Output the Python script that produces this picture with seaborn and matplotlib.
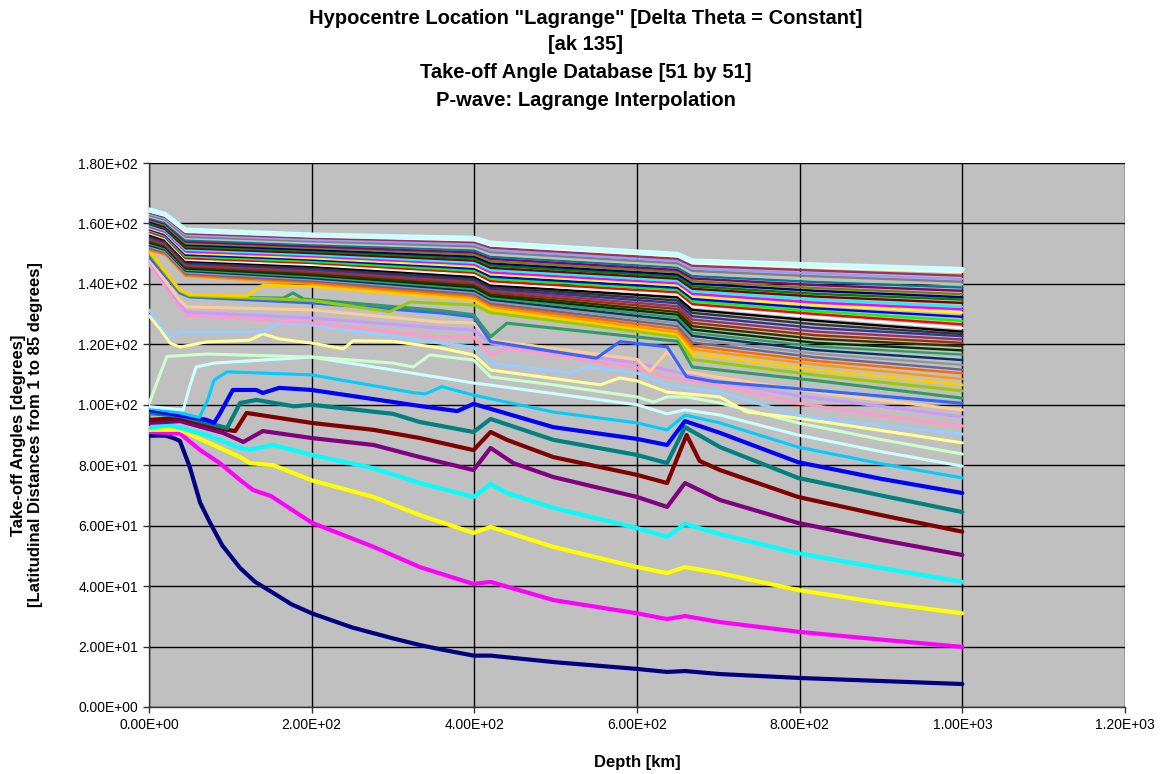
import matplotlib
matplotlib.use("Agg")
import matplotlib.pyplot as plt
import pandas as pd
import seaborn as sns
from matplotlib.ticker import FuncFormatter, MultipleLocator

TITLE_LINES = [
    'Hypocentre Location "Lagrange" [Delta Theta = Constant]',
    '[ak 135]',
    'Take-off Angle Database [51 by 51]',
    'P-wave: Lagrange Interpolation',
]
X_LABEL = "Depth [km]"
Y_LABEL = "Take-off Angles [degrees]\n[Latitudinal Distances from 1 to 85 degrees]"

# ---- individually shaped series (depth km, take-off angle deg) ----
D01 = [0, 20, 30, 38, 50, 63, 75, 90, 112, 130, 153, 175, 200, 250, 300, 333, 360, 399, 420, 500, 600, 637, 659, 702, 800, 900, 1000]
V01 = [89.8, 89.8, 89.0, 88.0, 79.5, 67.5, 61.0, 53.5, 46.0, 41.5, 37.7, 34.0, 31.0, 26.3, 22.7, 20.5, 19.0, 17.0, 17.0, 14.8, 12.6, 11.6, 11.9, 10.9, 9.6, 8.6, 7.6]
D02 = [0, 38, 63, 87, 112, 128, 150, 200, 276, 333, 399, 420, 497, 600, 637, 659, 702, 798, 900, 1000]
V02 = [91.0, 90.5, 85.0, 80.7, 75.1, 71.8, 69.8, 61.0, 53.0, 46.3, 40.7, 41.4, 35.4, 31.0, 29.1, 30.1, 28.1, 24.9, 22.3, 19.9]
D03 = [0, 38, 71, 112, 124, 153, 200, 276, 333, 399, 420, 497, 600, 637, 659, 702, 798, 900, 1000]
V03 = [91.7, 91.7, 87.7, 82.7, 80.7, 80.0, 75.0, 69.5, 63.5, 57.6, 59.6, 53.0, 46.3, 44.3, 46.3, 44.3, 38.7, 34.5, 31.0]
D04 = [0, 25, 71, 112, 124, 153, 200, 276, 333, 399, 420, 440, 497, 600, 637, 659, 702, 798, 900, 1000]
V04 = [92.3, 93.3, 90.0, 85.7, 85.2, 86.7, 83.4, 79.0, 74.1, 69.5, 73.8, 70.8, 65.9, 59.2, 56.3, 60.6, 57.2, 50.9, 46.0, 41.4]
D05 = [0, 38, 91, 116, 140, 200, 276, 333, 399, 420, 448, 497, 600, 637, 659, 702, 798, 900, 1000]
V05 = [94.0, 94.6, 90.7, 87.7, 91.3, 89.0, 86.7, 82.7, 78.4, 85.7, 80.7, 76.1, 69.5, 66.2, 74.1, 68.5, 60.9, 55.3, 50.3]
D06 = [0, 38, 96, 106, 120, 200, 276, 333, 399, 420, 440, 497, 600, 637, 661, 677, 702, 798, 900, 1000]
V06 = [95.0, 95.6, 91.7, 91.3, 97.3, 94.0, 91.7, 89.0, 85.0, 91.0, 88.4, 82.7, 76.8, 74.1, 90.0, 81.4, 78.4, 69.5, 63.5, 58.0]
D07 = [0, 38, 96, 112, 132, 178, 200, 300, 333, 399, 420, 497, 600, 637, 659, 702, 798, 900, 1000]
V07 = [97.3, 96.3, 92.3, 100.6, 101.6, 99.5, 100.0, 97.0, 94.3, 91.0, 95.3, 88.4, 83.4, 80.7, 92.6, 86.0, 75.8, 70.0, 64.5]
D08 = [0, 71, 80, 87, 103, 132, 140, 160, 200, 333, 379, 399, 497, 600, 637, 659, 702, 798, 900, 1000]
V08 = [98.3, 95.0, 94.0, 97.0, 104.9, 104.9, 103.9, 105.6, 104.9, 99.6, 97.9, 100.3, 92.6, 88.7, 86.7, 94.6, 90.7, 81.0, 75.5, 70.8]
D09 = [0, 38, 62, 72, 80, 96, 200, 325, 340, 360, 399, 497, 600, 637, 659, 702, 798, 900, 1000]
V09 = [98.9, 97.3, 95.8, 101.5, 108.2, 110.9, 109.9, 104.0, 103.6, 106.0, 103.2, 97.6, 94.0, 91.7, 96.6, 94.0, 86.0, 80.5, 75.8]
D10 = [0, 30, 42, 50, 58, 80, 200, 358, 399, 420, 600, 637, 659, 702, 798, 900, 1000]
V10 = [99.4, 98.6, 98.3, 106.0, 112.5, 113.8, 115.8, 109.0, 107.2, 106.5, 100.0, 97.0, 98.3, 96.6, 90.0, 84.5, 79.7]
D11 = [0, 12, 22, 71, 200, 300, 325, 345, 399, 420, 497, 600, 620, 637, 661, 702, 798, 900, 1000]
V11 = [100.3, 109.0, 116.0, 116.8, 115.8, 113.8, 112.5, 116.5, 114.8, 109.2, 106.6, 102.6, 100.9, 102.6, 102.6, 100.6, 94.0, 88.5, 83.7]
D12 = [0, 14, 26, 38, 71, 124, 140, 160, 200, 239, 251, 300, 358, 399, 420, 555, 579, 600, 637, 702, 735, 798, 900, 1000]
V12 = [129.5, 125.0, 120.4, 119.1, 120.8, 121.4, 123.5, 121.8, 120.4, 118.5, 121.2, 121.0, 118.8, 116.5, 111.5, 106.6, 108.9, 107.9, 104.2, 102.6, 97.6, 95.6, 91.5, 87.4]
D13 = [0, 14, 26, 38, 140, 160, 200, 358, 399, 420, 518, 538, 600, 637, 702, 798, 900, 1000]
V13 = [131.4, 126.5, 122.4, 124.1, 124.1, 127.1, 126.4, 120.4, 119.1, 113.8, 110.5, 112.5, 110.5, 106.6, 104.2, 96.5, 93.2, 90.3]
D14 = [0, 38, 46, 200, 358, 399, 420, 440, 600, 637, 702, 798, 900, 1000]
V14 = [146.5, 132.4, 129.7, 127.1, 122.4, 122.4, 116.5, 118.8, 112.2, 109.2, 106.6, 100.5, 96.5, 93.0]
D15 = [0, 38, 46, 200, 358, 399, 420, 600, 637, 702, 798, 900, 1000]
V15 = [147.5, 133.5, 130.7, 128.7, 125.4, 124.7, 120.4, 113.8, 111.5, 107.5, 103.0, 99.5, 96.0]
D16 = [0, 38, 46, 200, 358, 399, 420, 600, 616, 637, 659, 702, 798, 900, 1000]
V16 = [148.2, 134.5, 132.4, 131.4, 127.4, 127.1, 121.4, 115.0, 111.0, 117.5, 111.0, 109.0, 105.0, 101.5, 98.3]
D17 = [0, 38, 50, 200, 358, 399, 420, 550, 579, 637, 661, 694, 820, 1000]
V17 = [149.0, 137.0, 135.7, 133.7, 130.4, 129.1, 120.9, 115.4, 120.9, 119.2, 109.3, 107.7, 104.8, 100.5]
D18 = [0, 38, 50, 165, 177, 190, 358, 399, 420, 440, 650, 668, 820, 1000]
V18 = [150.0, 137.5, 135.8, 135.3, 137.0, 135.0, 131.2, 129.8, 122.5, 127.0, 121.0, 112.5, 108.0, 102.2]
D19 = [0, 38, 50, 200, 296, 321, 400, 420, 650, 668, 820, 1000]
V19 = [150.5, 137.8, 136.2, 134.5, 130.8, 134.0, 133.0, 130.5, 122.5, 115.0, 109.8, 104.6]
D20 = [0, 38, 50, 120, 140, 200, 400, 420, 650, 668, 820, 1000]
V20 = [151.0, 138.0, 136.5, 136.0, 139.6, 139.2, 134.6, 131.6, 123.4, 117.0, 111.5, 106.6]

# ---- dense upper bundle, all read at the same depths ----
BUNDLE_DEPTH = [0, 20, 45, 200, 400, 420, 650, 668, 820, 1000]
B21 = [151.1, 149.6, 142.6, 140.0, 135.4, 132.4, 124.0, 118.4, 113.3, 108.5]
B22 = [151.5, 150.0, 143.0, 140.5, 136.0, 133.0, 125.0, 119.5, 114.5, 110.4]
B23 = [151.9, 150.4, 143.4, 141.0, 136.6, 133.6, 126.0, 120.6, 115.7, 111.6]
B24 = [152.4, 150.8, 143.8, 141.5, 137.2, 134.2, 126.9, 121.7, 116.9, 113.2]
B25 = [152.8, 151.3, 144.3, 141.9, 137.7, 134.8, 127.9, 122.8, 118.1, 114.8]
B26 = [153.3, 151.7, 144.7, 142.4, 138.3, 135.4, 128.8, 123.8, 119.3, 116.6]
B27 = [153.7, 152.1, 145.1, 142.9, 138.9, 136.0, 129.8, 124.9, 120.5, 118.0]
B28 = [154.1, 152.5, 145.5, 143.4, 139.5, 136.6, 130.7, 126.0, 121.8, 119.4]
B29 = [154.6, 152.9, 145.9, 143.9, 140.1, 137.2, 131.7, 127.1, 123.0, 120.5]
B30 = [155.0, 153.3, 146.3, 144.4, 140.7, 137.8, 132.6, 128.2, 124.2, 121.6]
B31 = [155.4, 153.8, 146.8, 144.8, 141.3, 138.4, 133.6, 129.3, 125.4, 122.7]
B32 = [155.9, 154.2, 147.2, 145.3, 141.8, 139.0, 134.5, 130.4, 126.6, 123.4]
B33 = [156.3, 154.6, 147.6, 145.8, 142.4, 139.6, 135.5, 131.4, 127.8, 124.2]
B34 = [156.8, 155.0, 148.0, 146.3, 143.0, 140.2, 136.5, 132.5, 129.0, 125.4]
B35 = [157.2, 155.4, 148.5, 146.9, 143.7, 140.9, 137.2, 133.3, 130.0, 126.6]
B36 = [157.7, 155.9, 149.1, 147.4, 144.3, 141.7, 138.0, 134.2, 130.9, 127.8]
B37 = [158.1, 156.3, 149.6, 148.0, 145.0, 142.4, 138.7, 135.0, 131.9, 129.1]
B38 = [158.5, 156.8, 150.2, 148.5, 145.7, 143.2, 139.5, 135.9, 132.9, 130.5]
B39 = [158.9, 157.2, 150.7, 149.1, 146.4, 143.8, 140.2, 136.7, 133.8, 131.6]
B40 = [159.4, 157.7, 151.3, 149.6, 147.0, 144.6, 140.9, 137.6, 134.8, 132.5]
B41 = [159.8, 158.1, 151.8, 150.2, 147.7, 145.3, 141.7, 138.4, 135.8, 133.7]
B42 = [160.2, 158.6, 152.4, 150.8, 148.4, 146.1, 142.4, 139.2, 136.7, 134.8]
B43 = [160.6, 159.0, 152.9, 151.3, 149.0, 146.8, 143.1, 140.1, 137.7, 135.6]
B44 = [161.1, 159.4, 153.4, 151.9, 149.7, 147.5, 143.9, 140.9, 138.6, 136.6]
B45 = [161.5, 159.9, 154.0, 152.4, 150.4, 148.3, 144.6, 141.8, 139.6, 137.7]
B46 = [161.9, 160.3, 154.5, 153.0, 151.1, 149.0, 145.4, 142.6, 140.6, 138.8]
B47 = [162.3, 160.8, 155.1, 153.5, 151.8, 149.7, 146.1, 143.4, 141.5, 139.8]
B48 = [162.7, 161.2, 155.6, 154.1, 152.4, 150.5, 146.8, 144.3, 142.5, 140.7]
B49 = [163.2, 161.7, 156.2, 154.6, 153.1, 151.2, 147.6, 145.1, 143.4, 141.6]
B50 = [163.6, 162.1, 156.7, 155.2, 153.8, 152.0, 148.3, 146.0, 144.4, 142.7]
B51 = [164.0, 162.6, 157.2, 155.7, 154.4, 152.7, 149.1, 146.8, 145.4, 143.9]
B52 = [164.5, 163.0, 157.8, 156.2, 155.1, 153.5, 149.8, 147.6, 146.3, 144.8]

COLORS = [
    "#000080", "#FF00FF", "#FFFF00", "#00FFFF", "#800080", "#800000", "#008080", "#0000FF",
    "#00CCFF", "#CCFFFF", "#CCFFCC", "#FFFF99", "#99CCFF", "#FF99CC", "#CC99FF", "#FFCC99",
    "#3366FF", "#339966", "#99CC00", "#FFCC00", "#FF9900", "#FF6600", "#666699", "#969696",
    "#003366", "#339966", "#003300", "#333300", "#993300", "#993366", "#333399", "#333333",
    "#000000", "#FFFFFF", "#FF0000", "#00FF00", "#0000FF", "#FFFF00", "#FF00FF", "#00FFFF",
    "#800000", "#008000", "#000080", "#808000", "#800080", "#008080", "#C0C0C0", "#808080",
    "#9999FF", "#993366", "#FFFFCC", "#CCFFFF",
]

INDIVIDUAL = [(D01, V01), (D02, V02), (D03, V03), (D04, V04), (D05, V05), (D06, V06),
              (D07, V07), (D08, V08), (D09, V09), (D10, V10), (D11, V11), (D12, V12),
              (D13, V13), (D14, V14), (D15, V15), (D16, V16), (D17, V17), (D18, V18),
              (D19, V19), (D20, V20)]
BUNDLE = [B21, B22, B23, B24, B25, B26, B27, B28, B29, B30, B31, B32, B33, B34, B35, B36,
          B37, B38, B39, B40, B41, B42, B43, B44, B45, B46, B47, B48, B49, B50, B51, B52]

frames = []
for i, (d, v) in enumerate(INDIVIDUAL):
    frames.append(pd.DataFrame({"depth": d, "angle": v, "series": i + 1}))
for j, v in enumerate(BUNDLE):
    frames.append(pd.DataFrame({"depth": BUNDLE_DEPTH, "angle": v, "series": 21 + j}))
df = pd.concat(frames, ignore_index=True)

sns.set_theme(style="white")
plt.rcParams["font.family"] = ["Liberation Sans", "DejaVu Sans"]
plt.rcParams["text.color"] = "black"
plt.rcParams["axes.labelcolor"] = "black"
plt.rcParams["xtick.color"] = "black"
plt.rcParams["ytick.color"] = "black"

fig = plt.figure(figsize=(11.72, 7.74), dpi=100)
ax = fig.add_axes([149 / 1172, 1 - 707 / 774, (1125 - 149) / 1172, (707 - 163) / 774])
ax.set_facecolor("#C0C0C0")

def width_for(s):
    if s <= 8:
        return 3.0
    if s <= 20:
        return 2.2
    if s == 52:
        return 3.6
    return 1.7

for s in range(1, 53):
    sub = df[df["series"] == s]
    sns.lineplot(data=sub, x="depth", y="angle", ax=ax, color=COLORS[s - 1],
                 linewidth=width_for(s), estimator=None, legend=False, zorder=3 + s * 0.01)

ax.set_xlim(0, 1200)
ax.set_ylim(0, 180)
ax.xaxis.set_major_locator(MultipleLocator(200))
ax.yaxis.set_major_locator(MultipleLocator(20))
fmt = FuncFormatter(lambda v, p: f"{v:.2E}")
ax.xaxis.set_major_formatter(fmt)
ax.yaxis.set_major_formatter(fmt)
ax.grid(True, color="#000000", linewidth=1.0, zorder=1)
ax.set_axisbelow(True)
for side in ["top", "right"]:
    ax.spines[side].set_visible(False)
for side in ["left", "bottom"]:
    ax.spines[side].set_color("#333333")
    ax.spines[side].set_linewidth(1.0)
ax.tick_params(axis="both", direction="out", length=4, width=1.0, color="#333333",
               labelsize=10, labelcolor="black", pad=4)
ax.tick_params(axis="both", which="both", bottom=True, left=True)
ax.set_xlabel("")
ax.set_ylabel("")

title_y = [18, 45, 73, 100]
for line, yp in zip(TITLE_LINES, title_y):
    fig.text(0.5, 1 - yp / 774, line, ha="center", va="center", fontsize=14.5,
             fontweight="bold", color="black")

fig.text(637 / 1172, 1 - 762 / 774, X_LABEL, ha="center", va="center", fontsize=12,
         fontweight="bold", color="black")
fig.text(27 / 1172, 1 - 435 / 774, Y_LABEL, ha="center", va="center", rotation=90,
         fontsize=12, fontweight="bold", linespacing=1.2, multialignment="center",
         color="black")

fig.savefig("out.png", dpi=100, facecolor="white")
